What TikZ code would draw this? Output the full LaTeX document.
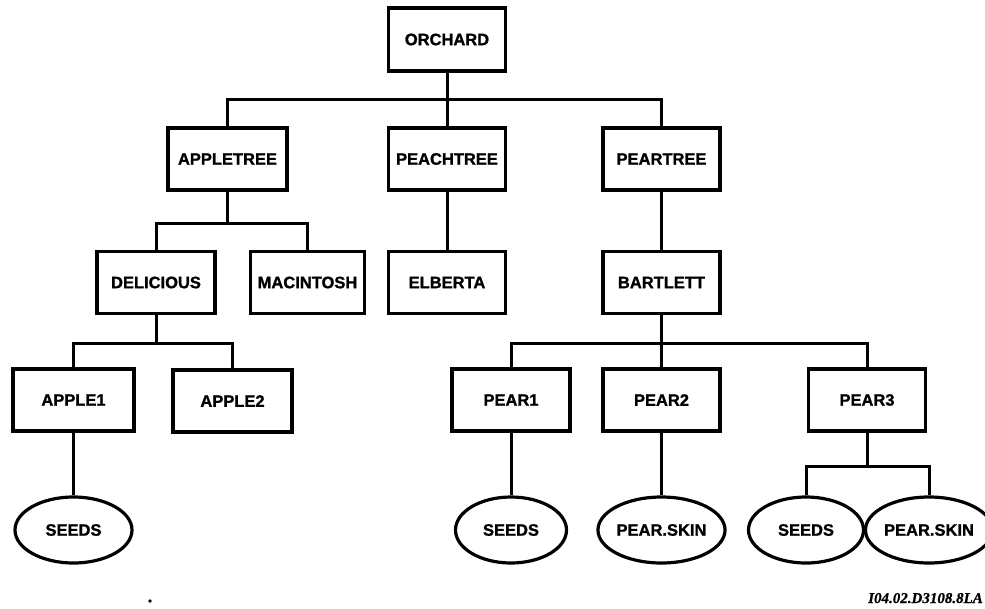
\documentclass[tikz,border=0pt]{standalone}
\usepackage{fontspec}
\setmainfont{Liberation Sans}
\newfontfamily\heavy{Liberation Sans Bold}[FakeBold=1.2]
\newfontfamily\labfont{Liberation Serif Bold Italic}[FakeBold=0.8]
\usetikzlibrary{shapes.geometric}
\tikzset{
  box/.style={draw, line width=3.2pt, minimum width=117pt, minimum height=62pt, inner sep=0pt,
    font=\heavy\fontsize{16.5}{18}\selectfont},
  oval/.style={draw, ellipse, line width=3.2pt, minimum width=112pt, minimum height=66pt, inner sep=0pt,
    font=\heavy\fontsize{16.5}{18}\selectfont},
  conn/.style={line width=3pt}
}
\begin{document}
\begin{tikzpicture}[x=1pt,y=-1pt]
\useasboundingbox (0,0) rectangle (985,608);
% row 0
\node[box, minimum height=63pt] (orchard) at (447,39.5) {ORCHARD};
% row 1
\node[box, minimum width=119pt] (appletree) at (227.5,159) {APPLETREE};
\node[box] (peachtree) at (447,159) {PEACHTREE};
\node[box] (peartree) at (661.5,159) {PEARTREE};
% row 2
\node[box, minimum width=118pt] (delicious) at (156,282.5) {DELICIOUS};
\node[box, minimum width=114pt] (macintosh) at (307.5,282.5) {MACINTOSH};
\node[box] (elberta) at (447,282.5) {ELBERTA};
\node[box] (bartlett) at (661.5,282.5) {BARTLETT};
% row 3
\node[box, minimum width=121pt] (apple1) at (73.5,400) {APPLE1};
\node[box, minimum width=119pt] (apple2) at (232.5,401) {APPLE2};
\node[box, minimum width=118pt] (pear1) at (511,400) {PEAR1};
\node[box] (pear2) at (661.5,400) {PEAR2};
\node[box] (pear3) at (867,400) {PEAR3};
% row 4
\node[oval, minimum width=117pt] (seeds1) at (73.5,530) {SEEDS};
\node[oval, minimum width=111pt] (seeds2) at (511,530) {SEEDS};
\node[oval, minimum width=112pt] (skin1) at (661.5,530) {PEAR.SKIN};
\node[oval, minimum width=115pt] (seeds3) at (806,530) {SEEDS};
\node[oval, minimum width=104pt] (skin2) at (929,530) {PEAR.SKIN};
% bus coordinates
\coordinate (b1) at (447,99);
\coordinate (b2) at (227.5,223);
\coordinate (b3) at (156,343);
\coordinate (b4) at (661.5,343);
\coordinate (b5) at (867,466);
% connectors
\draw[conn] (orchard.south) -- (orchard.south |- b1);
\draw[conn] (appletree.north) |- (b1) -| (peartree.north);
\draw[conn] (peachtree.north) -- (peachtree.north |- b1);
\draw[conn] (appletree.south) -- (b2);
\draw[conn] (delicious.north) |- (b2) -| (macintosh.north);
\draw[conn] (peachtree.south) -- (elberta.north);
\draw[conn] (peartree.south) -- (bartlett.north);
\draw[conn] (delicious.south) -- (b3);
\draw[conn] (apple1.north) |- (b3) -| (apple2.north);
\draw[conn] (bartlett.south) -- (pear2.north);
\draw[conn] (pear1.north) |- (b4) -| (pear3.north);
\draw[conn] (apple1.south) -- (seeds1.north);
\draw[conn] (pear1.south) -- (seeds2.north);
\draw[conn] (pear2.south) -- (skin1.north);
\draw[conn] (pear3.south) -- (b5);
\draw[conn] (seeds3.north) |- (b5) -| (skin2.north);
% stray dot and figure code
\fill (150,601) circle (1.8pt);
\node[anchor=base east, inner sep=0pt, font=\labfont\fontsize{15}{17}\selectfont] (code) at (983,603) {I04.02.D3108.8LA};
\end{tikzpicture}
\end{document}
